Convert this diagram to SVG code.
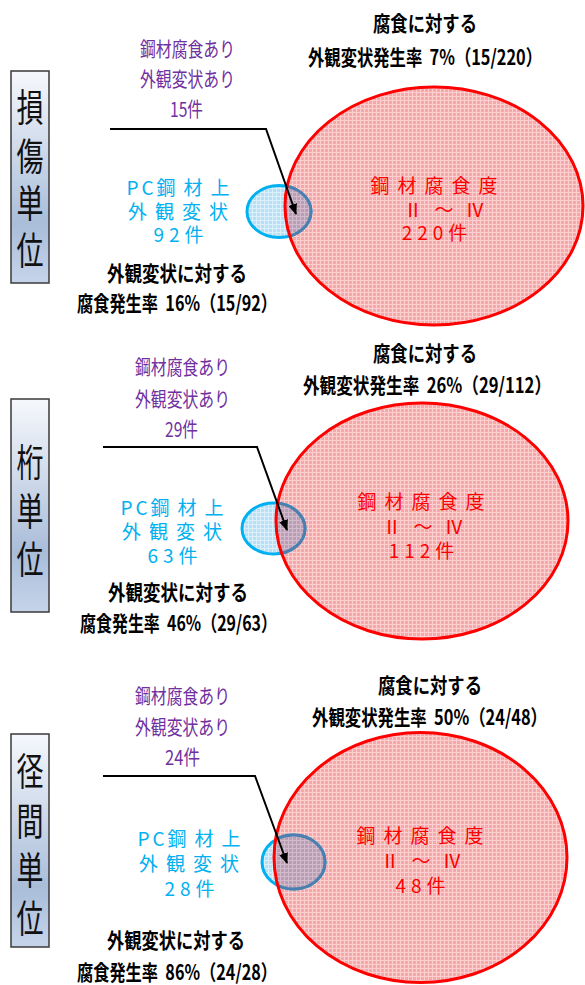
<svg xmlns="http://www.w3.org/2000/svg" width="585" height="985" viewBox="0 0 585 985">
<style>
text{font-family:"Noto Sans CJK JP","Noto Sans CJK SC",sans-serif;}
.lab{font-size:38px;fill:#111;}
.pur{font-size:20px;fill:#7030a0;}
.cy{font-size:19px;fill:#00b0f0;text-anchor:middle;letter-spacing:8px;}
.rd{font-size:19px;fill:#ff0000;text-anchor:middle;letter-spacing:8px;}
.num{letter-spacing:5px;}
.rom{letter-spacing:12px;}
.lat{letter-spacing:3px;}
.bk{font-size:21px;font-weight:bold;fill:#000;}
.box{fill:url(#gb);stroke:#3a3a3a;stroke-width:1.5;}
.redf{fill:url(#pr);stroke:none;}
.reds{fill:none;stroke:#ff0000;stroke-width:3;}
.blue{fill:url(#pb);stroke:#00b0f0;stroke-width:3;}
.ovl{fill:url(#po);stroke:#4a7fb0;stroke-width:3;}
.lead{fill:none;stroke:#000;stroke-width:2;marker-end:url(#ah);}
</style>
<defs>
<linearGradient id="gb" x1="0" y1="0" x2="0" y2="1">
<stop offset="0" stop-color="#f6f8fc"/>
<stop offset="0.72" stop-color="#a9bdd9"/>
<stop offset="1" stop-color="#c6d4e9"/>
</linearGradient>
<pattern id="pr" width="4" height="4" patternUnits="userSpaceOnUse">
<rect width="4" height="4" fill="#f6a8a8"/>
<rect width="4" height="1" fill="#fcd0d0"/>
<rect width="1" height="4" fill="#fcd0d0"/>
</pattern>
<pattern id="pb" width="4" height="4" patternUnits="userSpaceOnUse">
<rect width="4" height="4" fill="#b8e0f5"/>
<rect width="4" height="1" fill="#dcf0fb"/>
<rect width="1" height="4" fill="#dcf0fb"/>
</pattern>
<pattern id="po" width="4" height="4" patternUnits="userSpaceOnUse">
<rect width="4" height="4" fill="#b99eb6"/>
<rect width="4" height="1" fill="#d2bccb"/>
<rect width="1" height="4" fill="#d2bccb"/>
</pattern>
<marker id="ah" markerWidth="11" markerHeight="9" refX="10" refY="4.5" orient="auto" markerUnits="userSpaceOnUse">
<path d="M0,0 L11,4.5 L0,9 Z" fill="#000"/>
</marker>
<clipPath id="c1"><ellipse cx="434" cy="206" rx="149" ry="119"/></clipPath>
<clipPath id="c2"><ellipse cx="422" cy="521" rx="146" ry="118"/></clipPath>
<clipPath id="c3"><ellipse cx="420.5" cy="857.5" rx="146.5" ry="125"/></clipPath>
</defs>

<!-- Panel 1 -->
<g id="p1-label">
<rect class="box" x="11" y="71" width="38" height="212"/>
<text class="lab" x="16.5" y="121" textLength="27" lengthAdjust="spacingAndGlyphs">損</text>
<text class="lab" x="16.5" y="170" textLength="27" lengthAdjust="spacingAndGlyphs">傷</text>
<text class="lab" x="16.5" y="217" textLength="27" lengthAdjust="spacingAndGlyphs">単</text>
<text class="lab" x="16.5" y="264" textLength="27" lengthAdjust="spacingAndGlyphs">位</text>
</g>
<g id="p1-sets">
<ellipse class="redf" cx="434" cy="206" rx="149" ry="119"/>
<ellipse class="blue" cx="279" cy="211.5" rx="32" ry="26"/>
<ellipse class="ovl" cx="279" cy="211.5" rx="32" ry="26" clip-path="url(#c1)"/>
<ellipse class="reds" cx="434" cy="206" rx="149" ry="119"/>
</g>
<g id="p1-red">
<text class="rd" x="438" y="193">鋼材腐食度</text>
<text class="rd rom" x="450" y="217">Ⅱ～Ⅳ</text>
<text class="rd num" x="437" y="240">220件</text>
</g>
<g id="p1-cyan">
<text class="cy" x="182" y="195"><tspan class="lat">PC</tspan>鋼材上</text>
<text class="cy" x="182" y="219">外観変状</text>
<text class="cy num" x="181" y="242">92件</text>
</g>
<g id="p1-purple">
<text class="pur" x="140" y="57" textLength="95" lengthAdjust="spacingAndGlyphs">鋼材腐食あり</text>
<text class="pur" x="140" y="87" textLength="95" lengthAdjust="spacingAndGlyphs">外観変状あり</text>
<text class="pur" x="170" y="117" textLength="33" lengthAdjust="spacingAndGlyphs">15件</text>
</g>
<g id="p1-rate-a">
<text class="bk" x="107" y="281" textLength="140" lengthAdjust="spacingAndGlyphs">外観変状に対する</text>
<text class="bk" x="77" y="311" textLength="200" lengthAdjust="spacingAndGlyphs" xml:space="preserve">腐食発生率  16%（15/92）</text>
</g>
<g id="p1-rate-b">
<text class="bk" x="373" y="31" textLength="104" lengthAdjust="spacingAndGlyphs">腐食に対する</text>
<text class="bk" x="308" y="65" textLength="234" lengthAdjust="spacingAndGlyphs" xml:space="preserve">外観変状発生率  7%（15/220）</text>
</g>

<!-- Panel 2 -->
<g id="p2-label">
<rect class="box" x="11" y="399" width="38" height="213"/>
<text class="lab" x="16.5" y="476" textLength="27" lengthAdjust="spacingAndGlyphs">桁</text>
<text class="lab" x="16.5" y="525" textLength="27" lengthAdjust="spacingAndGlyphs">単</text>
<text class="lab" x="16.5" y="573" textLength="27" lengthAdjust="spacingAndGlyphs">位</text>
</g>
<g id="p2-sets">
<ellipse class="redf" cx="422" cy="521" rx="146" ry="118"/>
<ellipse class="blue" cx="273.5" cy="528.5" rx="31.5" ry="25.5"/>
<ellipse class="ovl" cx="273.5" cy="528.5" rx="31.5" ry="25.5" clip-path="url(#c2)"/>
<ellipse class="reds" cx="422" cy="521" rx="146" ry="118"/>
</g>
<g id="p2-red">
<text class="rd" x="425" y="509">鋼材腐食度</text>
<text class="rd rom" x="429" y="534">Ⅱ～Ⅳ</text>
<text class="rd num" x="424" y="558">112件</text>
</g>
<g id="p2-cyan">
<text class="cy" x="176" y="515"><tspan class="lat">PC</tspan>鋼材上</text>
<text class="cy" x="176" y="539">外観変状</text>
<text class="cy num" x="175" y="563">63件</text>
</g>
<g id="p2-purple">
<text class="pur" x="135" y="375" textLength="95" lengthAdjust="spacingAndGlyphs">鋼材腐食あり</text>
<text class="pur" x="135" y="407" textLength="95" lengthAdjust="spacingAndGlyphs">外観変状あり</text>
<text class="pur" x="165" y="437" textLength="33" lengthAdjust="spacingAndGlyphs">29件</text>
</g>
<g id="p2-rate-a">
<text class="bk" x="108" y="600" textLength="140" lengthAdjust="spacingAndGlyphs">外観変状に対する</text>
<text class="bk" x="80" y="631" textLength="197" lengthAdjust="spacingAndGlyphs" xml:space="preserve">腐食発生率  46%（29/63）</text>
</g>
<g id="p2-rate-b">
<text class="bk" x="373" y="361" textLength="104" lengthAdjust="spacingAndGlyphs">腐食に対する</text>
<text class="bk" x="303" y="393" textLength="248" lengthAdjust="spacingAndGlyphs" xml:space="preserve">外観変状発生率  26%（29/112）</text>
</g>

<!-- Panel 3 -->
<g id="p3-label">
<rect class="box" x="11" y="734" width="38" height="213"/>
<text class="lab" x="16.5" y="785" textLength="27" lengthAdjust="spacingAndGlyphs">径</text>
<text class="lab" x="16.5" y="835" textLength="27" lengthAdjust="spacingAndGlyphs">間</text>
<text class="lab" x="16.5" y="884" textLength="27" lengthAdjust="spacingAndGlyphs">単</text>
<text class="lab" x="16.5" y="932" textLength="27" lengthAdjust="spacingAndGlyphs">位</text>
</g>
<g id="p3-sets">
<ellipse class="redf" cx="420.5" cy="857.5" rx="146.5" ry="125"/>
<ellipse class="blue" cx="293.5" cy="862" rx="31.5" ry="27"/>
<ellipse class="ovl" cx="293.5" cy="862" rx="31.5" ry="27" clip-path="url(#c3)"/>
<ellipse class="reds" cx="420.5" cy="857.5" rx="146.5" ry="125"/>
</g>
<g id="p3-red">
<text class="rd" x="424" y="843">鋼材腐食度</text>
<text class="rd rom" x="427" y="868">Ⅱ～Ⅳ</text>
<text class="rd num" x="423" y="893">48件</text>
</g>
<g id="p3-cyan">
<text class="cy" x="193" y="846"><tspan class="lat">PC</tspan>鋼材上</text>
<text class="cy" x="193" y="871">外観変状</text>
<text class="cy num" x="192" y="896">28件</text>
</g>
<g id="p3-purple">
<text class="pur" x="135" y="704" textLength="95" lengthAdjust="spacingAndGlyphs">鋼材腐食あり</text>
<text class="pur" x="135" y="735" textLength="95" lengthAdjust="spacingAndGlyphs">外観変状あり</text>
<text class="pur" x="165" y="765" textLength="35" lengthAdjust="spacingAndGlyphs">24件</text>
</g>
<g id="p3-rate-a">
<text class="bk" x="107" y="948" textLength="138" lengthAdjust="spacingAndGlyphs">外観変状に対する</text>
<text class="bk" x="77" y="980" textLength="200" lengthAdjust="spacingAndGlyphs" xml:space="preserve">腐食発生率  86%（24/28）</text>
</g>
<g id="p3-rate-b">
<text class="bk" x="378" y="693" textLength="104" lengthAdjust="spacingAndGlyphs">腐食に対する</text>
<text class="bk" x="312" y="725" textLength="235" lengthAdjust="spacingAndGlyphs" xml:space="preserve">外観変状発生率  50%（24/48）</text>
</g>

<g id="connectors">
<polyline class="lead" points="110,129 266,129 296,214"/>
<polyline class="lead" points="103,447 257,447 287,530"/>
<polyline class="lead" points="103,776 255,776 287,863"/>
</g>
</svg>
